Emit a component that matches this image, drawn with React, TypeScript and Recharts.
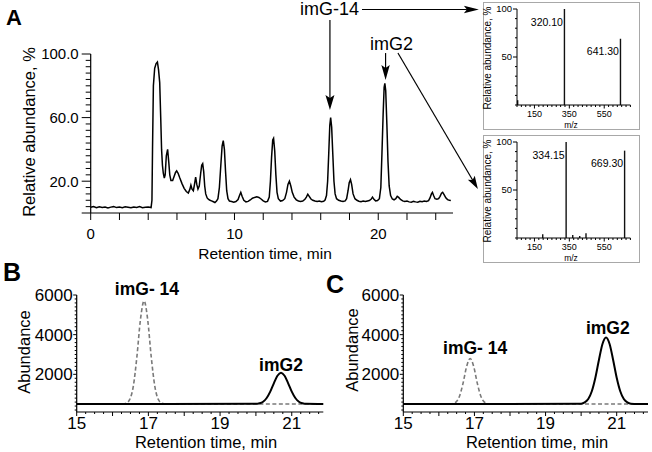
import React from 'react';
import { LineChart, Line, BarChart, Bar, XAxis, YAxis, ReferenceLine, ReferenceDot, LabelList } from 'recharts';

const FONT = '"Liberation Sans", Arial, Helvetica, sans-serif';

// Panel A - total ion chromatogram (retention time in min, relative abundance in %)
const ticTime = [
  0, 0.2, 0.4, 0.6, 0.8, 1.0, 1.2, 1.4, 1.6, 1.8, 2.0, 2.2, 2.4, 2.6, 2.8, 3.0, 3.2, 3.4, 3.6, 3.8, 4.0, 4.2,
  4.26, 4.3, 4.36, 4.45, 4.55, 4.64, 4.72, 4.8, 4.87, 4.93, 4.99, 5.05, 5.12, 5.18, 5.26, 5.35, 5.43, 5.5, 5.58,
  5.7, 5.8, 5.9, 5.98, 6.08, 6.2, 6.35, 6.5, 6.65, 6.79, 6.9, 6.97, 7.05, 7.14, 7.22, 7.3, 7.38, 7.46, 7.55,
  7.65, 7.72, 7.79, 7.86, 7.93, 8.0, 8.1, 8.2, 8.3, 8.4, 8.5, 8.64, 8.75, 8.85, 8.95, 9.05, 9.14, 9.22, 9.3,
  9.38, 9.46, 9.55, 9.65, 9.8, 9.95, 10.1, 10.25, 10.35, 10.44, 10.53, 10.65, 10.8, 10.95, 11.1, 11.25, 11.4,
  11.55, 11.7, 11.85, 12.0, 12.15, 12.3, 12.42, 12.5, 12.58, 12.66, 12.72, 12.8, 12.88, 12.96, 13.05, 13.2,
  13.35, 13.5, 13.62, 13.72, 13.82, 13.92, 14.02, 14.15, 14.3, 14.45, 14.6, 14.75, 14.9, 15.0, 15.1, 15.2,
  15.32, 15.45, 15.6, 15.75, 15.9, 16.05, 16.2, 16.3, 16.4, 16.48, 16.56, 16.63, 16.69, 16.76, 16.84, 16.92,
  17.0, 17.1, 17.25, 17.4, 17.55, 17.7, 17.8, 17.9, 17.98, 18.07, 18.15, 18.25, 18.38, 18.52, 18.65, 18.8,
  18.95, 19.1, 19.25, 19.38, 19.5, 19.6, 19.7, 19.82, 19.95, 20.08, 20.18, 20.26, 20.34, 20.41, 20.46, 20.52,
  20.6, 20.68, 20.76, 20.86, 20.98, 21.1, 21.22, 21.32, 21.42, 21.55, 21.7, 21.85, 22.0, 22.15, 22.3, 22.45,
  22.6, 22.75, 22.9, 23.05, 23.2, 23.35, 23.5, 23.6, 23.7, 23.77, 23.85, 23.95, 24.08, 24.2, 24.3, 24.4,
  24.48, 24.58, 24.7, 24.82, 24.95, 25.05,
];
const ticAbund = [
  3.6, 4.1, 3.3, 3.9, 3.5, 3.8, 3.2, 3.7, 4.0, 3.4, 3.7, 3.3, 3.9, 3.6, 3.3, 3.8, 3.5, 4.0, 3.3, 3.6, 3.7, 3.4,
  8, 40, 80, 91, 94, 95, 90, 82, 60, 40, 30, 25, 22, 24, 36, 40, 32, 24, 20.5,
  20.5, 23, 25.5, 26.5, 25, 22, 18.5, 15.5, 13.5, 12.5, 15, 17.5, 15, 14, 18, 22.5, 18, 15, 17,
  25, 30, 31, 26, 17, 12, 9.5, 8.5, 8, 7.6, 7.2, 6.6, 7.5, 9, 16, 30, 42, 45.5, 40,
  26, 14, 9, 7.5, 7.2, 6.8, 7.2, 8.5, 11, 13, 10.5, 8, 7, 7.3, 8.2, 9.3, 9.8,
  10.2, 9.8, 8.8, 7.6, 7, 7.3, 10, 20, 35, 46, 47, 39, 24, 13, 9, 7.5,
  7.8, 9, 13, 18, 20, 17, 13, 10, 8.3, 7.6, 7.3, 7.5, 8.6, 10, 11.8, 10.5,
  8.8, 8, 7.5, 7.2, 7.5, 7.1, 7.4, 8.2, 11, 20, 38, 55, 60, 54, 37, 20,
  12, 9, 8, 7.5, 7.2, 7.6, 9, 14, 19, 21, 18, 12, 9, 8, 7.4, 7.1,
  7.5, 7.2, 7.6, 7.8, 8.6, 10, 8.6, 7.6, 7.8, 9, 16, 38, 62, 79, 81.5, 77,
  56, 32, 17, 11, 8.8, 8.3, 9, 10.5, 9.8, 8.5, 7.6, 7.2, 7.5, 7, 6.8, 7.3,
  7, 6.8, 7.4, 7.1, 7.5, 7.2, 7.8, 9.5, 12, 13, 11, 9, 8.6, 9, 10.5, 12.5,
  13, 11.5, 9.5, 8.4, 8, 7.8,
];
const ticXLabels = [0, 10, 20];
const ticYLabels = [20, 60, 100];

// Inset mass spectra (m/z, relative abundance %)
const ms14Mz = [52, 320.1, 641.3];
const ms14Abund = [5, 100, 69];
const ms14Tags = ['', '320.10', '641.30'];
const msG2Mz = [200, 334.15, 372, 412, 448, 669.3];
const msG2Abund = [4, 100, 3, 2, 5, 91];
const msG2Tags = ['', '334.15', '', '', '', '669.30'];
const msXLabels = [150, 350, 550];
const msYLabels = [50, 100];

// Panels B and C - extracted ion chromatograms (min, abundance)
const eicTime = [
  15, 16.3, 16.38, 16.48, 16.58, 16.68, 16.78, 16.88, 16.98, 17.08, 17.18, 17.28, 17.38, 17.5,
  20.0, 20.1, 20.2, 20.3, 20.4, 20.5, 20.6, 20.7, 20.8, 20.9, 21.0, 21.1, 21.2, 21.3, 21.4, 21.88,
];
const bImG14 = [
  500, 500, 545, 735, 1400, 2900, 4780, 5700, 4760, 2870, 1390, 720, 540, 500,
  500, 500, 500, 500, 500, 500, 500, 500, 500, 500, 500, 500, 500, 500, 500, 500,
];
const bImG2 = [
  500, 500, 500, 500, 500, 500, 500, 500, 500, 500, 500, 500, 500, 500,
  510, 540, 620, 805, 1125, 1545, 1925, 2080, 1925, 1545, 1125, 805, 620, 540, 510, 500,
];
const cImG14 = [
  500, 500, 517, 601, 896, 1553, 2391, 2800, 2391, 1553, 896, 601, 517, 500,
  500, 500, 500, 500, 500, 500, 500, 500, 500, 500, 500, 500, 500, 500, 500, 500,
];
const cImG2 = [
  500, 500, 500, 500, 500, 500, 500, 500, 500, 500, 500, 500, 500, 500,
  521, 582, 753, 1145, 1827, 2724, 3531, 3860, 3531, 2724, 1827, 1145, 753, 582, 521, 500,
];
const eicXLabels = [15, 17, 19, 21];
const eicYLabels = [2000, 4000, 6000];

const steps = (from: number, to: number, step: number) => {
  const out: number[] = [];
  for (let v = from; v <= to + 1e-9; v += step) out.push(Math.round(v * 1000) / 1000);
  return out;
};
const isIn = (arr: number[], v: number) => arr.some((a) => Math.abs(a - v) < 1e-6);

type TickCfg = {
  labels: number[];
  major: number[];
  majorLen: number;
  minorLen: number;
  size: number;
  gap: number;
  fmt?: (v: number) => string;
};

const bottomTick = (c: TickCfg) => (p: any) => {
  const v = p.payload.value;
  const len = isIn(c.major, v) ? c.majorLen : c.minorLen;
  return (
    <g>
      <line x1={p.x} x2={p.x} y1={p.y} y2={p.y + len} stroke="#000" strokeWidth={1} />
      {isIn(c.labels, v) && (
        <text x={p.x} y={p.y + c.gap} textAnchor="middle" fontSize={c.size} fontFamily={FONT} fill="#000">
          {c.fmt ? c.fmt(v) : String(v)}
        </text>
      )}
    </g>
  );
};

const leftTick = (c: TickCfg) => (p: any) => {
  const v = p.payload.value;
  const len = isIn(c.major, v) ? c.majorLen : c.minorLen;
  return (
    <g>
      <line x1={p.x - len} x2={p.x} y1={p.y} y2={p.y} stroke="#000" strokeWidth={1} />
      {isIn(c.labels, v) && (
        <text x={p.x - c.gap} y={p.y} dy="0.36em" textAnchor="end" fontSize={c.size} fontFamily={FONT} fill="#000">
          {c.fmt ? c.fmt(v) : String(v)}
        </text>
      )}
    </g>
  );
};

// line with a dart-shaped head at the second point
const arrowShape = (head: number, half: number) => (p: any) => {
  const { x1, y1, x2, y2 } = p;
  const L = Math.hypot(x2 - x1, y2 - y1) || 1;
  const ux = (x2 - x1) / L;
  const uy = (y2 - y1) / L;
  const bx = x2 - ux * head;
  const by = y2 - uy * head;
  const nx = x2 - ux * head * 0.8;
  const ny = y2 - uy * head * 0.8;
  const pts = `${x2},${y2} ${bx - uy * half},${by + ux * half} ${nx},${ny} ${bx + uy * half},${by - ux * half}`;
  return (
    <g>
      <line x1={x1} y1={y1} x2={nx} y2={ny} stroke="#000" strokeWidth={1.2} />
      {head > 0 && <polygon points={pts} fill="#000" />}
    </g>
  );
};

const annoText = (text: string, size: number, bold = false) => (p: any) => {
  const vb = p.viewBox || { x: 0, y: 0, width: 0, height: 0 };
  return (
    <text
      x={vb.x + vb.width / 2}
      y={vb.y + vb.height / 2}
      dy="0.36em"
      textAnchor="middle"
      fontSize={size}
      fontWeight={bold ? 700 : 400}
      fontFamily={FONT}
      fill="#000"
    >
      {text}
    </text>
  );
};

const axisStyle = { stroke: '#000', strokeWidth: 1.2 };

const Caption = ({ x, y, size, text, rotate = false, bold = false }: any) => (
  <div
    style={{
      position: 'absolute',
      left: x,
      top: y,
      transform: `translate(-50%, -50%)${rotate ? ' rotate(-90deg)' : ''}`,
      fontSize: size,
      lineHeight: 1,
      whiteSpace: 'nowrap',
      fontWeight: bold ? 700 : 400,
      fontFamily: FONT,
      color: '#000',
    }}
  >
    {text}
  </div>
);

const TicPanel = () => {
  const data = ticTime.map((t, i) => ({ t, v: ticAbund[i] }));
  return (
    <div style={{ position: 'absolute', left: 0, top: 0 }}>
      <LineChart width={652} height={270} data={data} margin={{ top: 54, right: 199, bottom: 0, left: 50.7 }}>
        <XAxis
          type="number"
          dataKey="t"
          domain={[0, 25.2]}
          ticks={steps(0, 24, 2)}
          interval={0}
          height={57}
          tickSize={0}
          tickMargin={0}
          tickLine={false}
          axisLine={axisStyle}
          tick={bottomTick({ labels: ticXLabels, major: ticXLabels, majorLen: 7, minorLen: 7, size: 15, gap: 26 })}
        />
        <YAxis
          type="number"
          domain={[0, 100]}
          ticks={steps(0, 100, 4)}
          interval={0}
          width={40}
          tickSize={0}
          tickMargin={0}
          tickLine={false}
          axisLine={axisStyle}
          tick={leftTick({ labels: ticYLabels, major: [0, ...ticYLabels], majorLen: 9, minorLen: 5, size: 15, gap: 12, fmt: (v) => v.toFixed(1) })}
        />
        <Line dataKey="v" type="linear" stroke="#000" strokeWidth={1.5} dot={false} isAnimationActive={false} />
        <ReferenceLine segment={[{ x: 16.64, y: 121.4 }, { x: 16.64, y: 64.8 }]} ifOverflow="visible" shape={arrowShape(15, 4.5)} />
        <ReferenceLine segment={[{ x: 18.87, y: 128 }, { x: 27.0, y: 128 }]} ifOverflow="visible" shape={arrowShape(15, 3.8)} />
        <ReferenceLine segment={[{ x: 20.51, y: 100.6 }, { x: 20.51, y: 83.6 }]} ifOverflow="visible" shape={arrowShape(15, 4.2)} />
        <ReferenceLine segment={[{ x: 21.37, y: 100.6 }, { x: 26.93, y: 15.1 }]} ifOverflow="visible" shape={arrowShape(13, 4)} />
        <ReferenceDot x={16.61} y={128.6} r={0} ifOverflow="visible" label={{ content: annoText('imG-14', 18) }} />
        <ReferenceDot x={20.92} y={106.6} r={0} ifOverflow="visible" label={{ content: annoText('imG2', 18) }} />
      </LineChart>
    </div>
  );
};

const peakTag = (p: any) => {
  const { x, y, width, value } = p;
  if (!value) return null;
  return (
    <text x={x + width / 2 - 1.5} y={y + 16.5} textAnchor="end" fontSize={10.5} fontFamily={FONT} fill="#000">
      {value}
    </text>
  );
};

const MsInset = ({ top, mz, abund, tags }: any) => {
  const data = mz.map((m: number, i: number) => ({ mz: m, ab: abund[i], tag: tags[i] }));
  return (
    <div
      style={{
        position: 'absolute',
        left: 483,
        top,
        width: 157,
        height: 128,
        border: '1px solid #a8a8a8',
        boxSizing: 'border-box',
      }}
    >
      <BarChart width={155} height={126} data={data} margin={{ top: 6, right: 8.6, bottom: 0, left: 13 }}>
        <XAxis
          type="number"
          dataKey="mz"
          domain={[50, 700]}
          ticks={steps(50, 700, 25)}
          interval={0}
          height={24}
          tickSize={0}
          tickMargin={0}
          tickLine={false}
          axisLine={{ stroke: '#000', strokeWidth: 1 }}
          tick={bottomTick({ labels: msXLabels, major: msXLabels, majorLen: 3.5, minorLen: 2, size: 9, gap: 11.5 })}
        />
        <YAxis
          type="number"
          domain={[0, 100]}
          ticks={steps(0, 100, 10)}
          interval={0}
          width={20}
          tickSize={0}
          tickMargin={0}
          tickLine={false}
          axisLine={{ stroke: '#000', strokeWidth: 1 }}
          tick={leftTick({ labels: msYLabels, major: msYLabels, majorLen: 4, minorLen: 2, size: 9.5, gap: 5 })}
        />
        <Bar dataKey="ab" fill="#111" barSize={1.4} isAnimationActive={false}>
          <LabelList dataKey="tag" content={peakTag} />
        </Bar>
      </BarChart>
      <Caption x={4} y={55} size={10} text="Relative abundance, %" rotate />
      <Caption x={87} y={121.5} size={8.5} text="m/z" />
    </div>
  );
};

const EicPanel = ({ left, width, plotLeft, plotRight, dashed, solid, tags }: any) => {
  const data = eicTime.map((t, i) => ({ t, d: dashed[i], s: solid[i] }));
  return (
    <div style={{ position: 'absolute', left, top: 260 }}>
      <LineChart width={width} height={192} data={data} margin={{ top: 35, right: width - plotRight, bottom: 0, left: plotLeft - 40 }}>
        <XAxis
          type="number"
          dataKey="t"
          domain={[15, 21.88]}
          ticks={steps(15, 21.75, 0.25)}
          interval={0}
          height={40}
          tickSize={0}
          tickMargin={0}
          tickLine={false}
          axisLine={axisStyle}
          tick={bottomTick({ labels: eicXLabels, major: steps(15, 21, 1), majorLen: 4, minorLen: 2, size: 17, gap: 17 })}
        />
        <YAxis
          type="number"
          domain={[100, 6000]}
          ticks={steps(200, 6000, 200)}
          interval={0}
          width={40}
          tickSize={0}
          tickMargin={0}
          tickLine={false}
          axisLine={axisStyle}
          tick={leftTick({ labels: eicYLabels, major: eicYLabels, majorLen: 3.5, minorLen: 2, size: 17, gap: 4 })}
        />
        <Line dataKey="d" type="monotone" stroke="#7a7a7a" strokeWidth={1.6} strokeDasharray="4 2.5" dot={false} isAnimationActive={false} />
        <Line dataKey="s" type="monotone" stroke="#000" strokeWidth={2} dot={false} isAnimationActive={false} />
        {tags.map((g: any) => (
          <ReferenceDot key={g.text} x={g.t} y={g.v} r={0} ifOverflow="visible" label={{ content: annoText(g.text, 17.5, true) }} />
        ))}
      </LineChart>
    </div>
  );
};

export default function App() {
  return (
    <div style={{ position: 'absolute', left: 0, top: 0, width: 652, height: 452, background: '#fff', fontFamily: FONT }}>
      <TicPanel />
      <MsInset top={2} mz={ms14Mz} abund={ms14Abund} tags={ms14Tags} />
      <MsInset top={135} mz={msG2Mz} abund={msG2Abund} tags={msG2Tags} />
      <EicPanel
        left={0}
        width={340}
        plotLeft={76.7}
        plotRight={323.3}
        dashed={bImG14}
        solid={bImG2}
        tags={[
          { t: 16.96, v: 6303, text: 'imG- 14' },
          { t: 20.7, v: 2470, text: 'imG2' },
        ]}
      />
      <EicPanel
        left={330}
        width={322}
        plotLeft={73.3}
        plotRight={318}
        dashed={cImG14}
        solid={cImG2}
        tags={[
          { t: 17.02, v: 3327, text: 'imG- 14' },
          { t: 20.75, v: 4336, text: 'imG2' },
        ]}
      />
      <Caption x={14} y={18} size={22} text="A" bold />
      <Caption x={12} y={272} size={25} text="B" bold />
      <Caption x={335} y={284} size={25} text="C" bold />
      <Caption x={29} y={132} size={16.5} text="Relative abundance, %" rotate />
      <Caption x={265} y={254} size={15.5} text="Retention time, min" />
      <Caption x={24} y={352} size={16.5} text="Abundance" rotate />
      <Caption x={206} y={442} size={16.5} text="Retention time, min" />
      <Caption x={352} y={350} size={16.5} text="Abundance" rotate />
      <Caption x={537} y={442} size={16.5} text="Retention time, min" />
    </div>
  );
}
